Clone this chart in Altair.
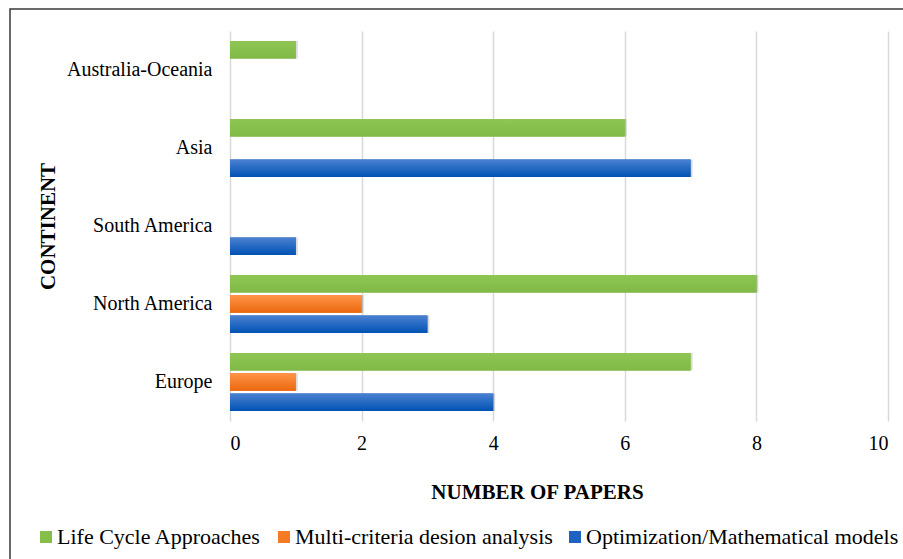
import altair as alt
import pandas as pd

continents = ["Australia-Oceania", "Asia", "South America", "North America", "Europe"]
series = ["Life Cycle Approaches", "Multi-criteria desion analysis", "Optimization/Mathematical models"]
life_cycle = [1, 6, 0, 8, 7]
multi_criteria = [0, 0, 0, 2, 1]
optimization = [0, 7, 1, 3, 4]
x_ticks = [0, 2, 4, 6, 8, 10]
solid_colors = ["#86BE4A", "#F47A24", "#1F63C2"]

rows = []
for s, vals in zip(series, [life_cycle, multi_criteria, optimization]):
    for c, v in zip(continents, vals):
        if v > 0:
            rows.append({"continent": c, "series": s, "papers": v})
df = pd.DataFrame(rows)

FONT = "Liberation Serif"

gradients = {
    series[0]: alt.LinearGradient(gradient="linear", x1=0, y1=0, x2=0, y2=1,
                                  stops=[alt.GradientStop(offset=0, color="#8FC653"),
                                         alt.GradientStop(offset=1, color="#80B945")]),
    series[1]: alt.LinearGradient(gradient="linear", x1=0, y1=0, x2=0, y2=1,
                                  stops=[alt.GradientStop(offset=0, color="#FF9448"),
                                         alt.GradientStop(offset=1, color="#EA680E")]),
    series[2]: alt.LinearGradient(gradient="linear", x1=0, y1=0, x2=0, y2=1,
                                  stops=[alt.GradientStop(offset=0, color="#4C82D2"),
                                         alt.GradientStop(offset=1, color="#0052B4")]),
}

x_enc = alt.X("papers:Q",
              scale=alt.Scale(domain=[0, 10], nice=False),
              axis=alt.Axis(values=x_ticks, title="NUMBER OF PAPERS", grid=True,
                            gridColor="#D9D9D9", gridWidth=1.5, domain=False, ticks=False,
                            labelFont=FONT, labelFontSize=20, labelColor="#000",
                            labelPadding=12,
                            titleFont=FONT, titleFontSize=21, titleFontWeight="bold",
                            titleColor="#000", titleX=307, titleY=77,
                            titleBaseline="alphabetic", titleAlign="center"))
y_enc = alt.Y("continent:N", sort=continents,
              scale=alt.Scale(domain=continents, paddingInner=0, paddingOuter=0),
              axis=alt.Axis(title="CONTINENT", domain=False, ticks=False, grid=False,
                            labelFont=FONT, labelFontSize=20, labelColor="#000",
                            labelPadding=18, labelLimit=300,
                            titleFont=FONT, titleFontSize=21, titleFontWeight="bold",
                            titleColor="#000", titleAngle=270, titleX=-176, titleY=195,
                            titleBaseline="alphabetic", titleAlign="center"))
yoff_enc = alt.YOffset("series:N", sort=series,
                       scale=alt.Scale(domain=series, paddingInner=0.13, paddingOuter=0.5))

shadow = alt.Chart(df).mark_bar(color="#000", opacity=0.14, xOffset=2, yOffset=2).encode(
    x=x_enc, y=y_enc, yOffset=yoff_enc)

base = alt.Chart(df).mark_bar().encode(
    x=x_enc, y=y_enc, yOffset=yoff_enc,
    color=alt.Color("series:N", sort=series,
                    scale=alt.Scale(domain=series, range=solid_colors),
                    legend=alt.Legend(title=None, orient="none", direction="horizontal",
                                      legendX=-195, legendY=495, padding=0,
                                      symbolType="square", symbolSize=144,
                                      symbolStrokeWidth=0, labelFont=FONT,
                                      labelFontSize=22, labelColor="#000",
                                      labelOffset=0, columnPadding=11, labelLimit=500)))

grad_layers = []
for s in series:
    grad_layers.append(
        alt.Chart(df).transform_filter(alt.datum.series == s)
        .mark_bar(color=gradients[s])
        .encode(x=x_enc, y=y_enc, yOffset=yoff_enc)
    )

frame = alt.Chart(alt.Data(values=[{}])).mark_rect(
    fill=None, stroke="#3A3A3A", strokeWidth=1.5).encode(
    x=alt.value(-220), x2=alt.value(700), y=alt.value(-22), y2=alt.value(600))

chart = alt.layer(frame, shadow, base, *grad_layers).properties(
    width=658, height=390,
    autosize=alt.AutoSizeParams(type="none"),
    padding={"left": 230, "top": 31, "right": 15, "bottom": 138},
    background="white",
).configure_view(stroke=None)

chart.save("out.html", embed_options={"renderer": "svg", "actions": False})
